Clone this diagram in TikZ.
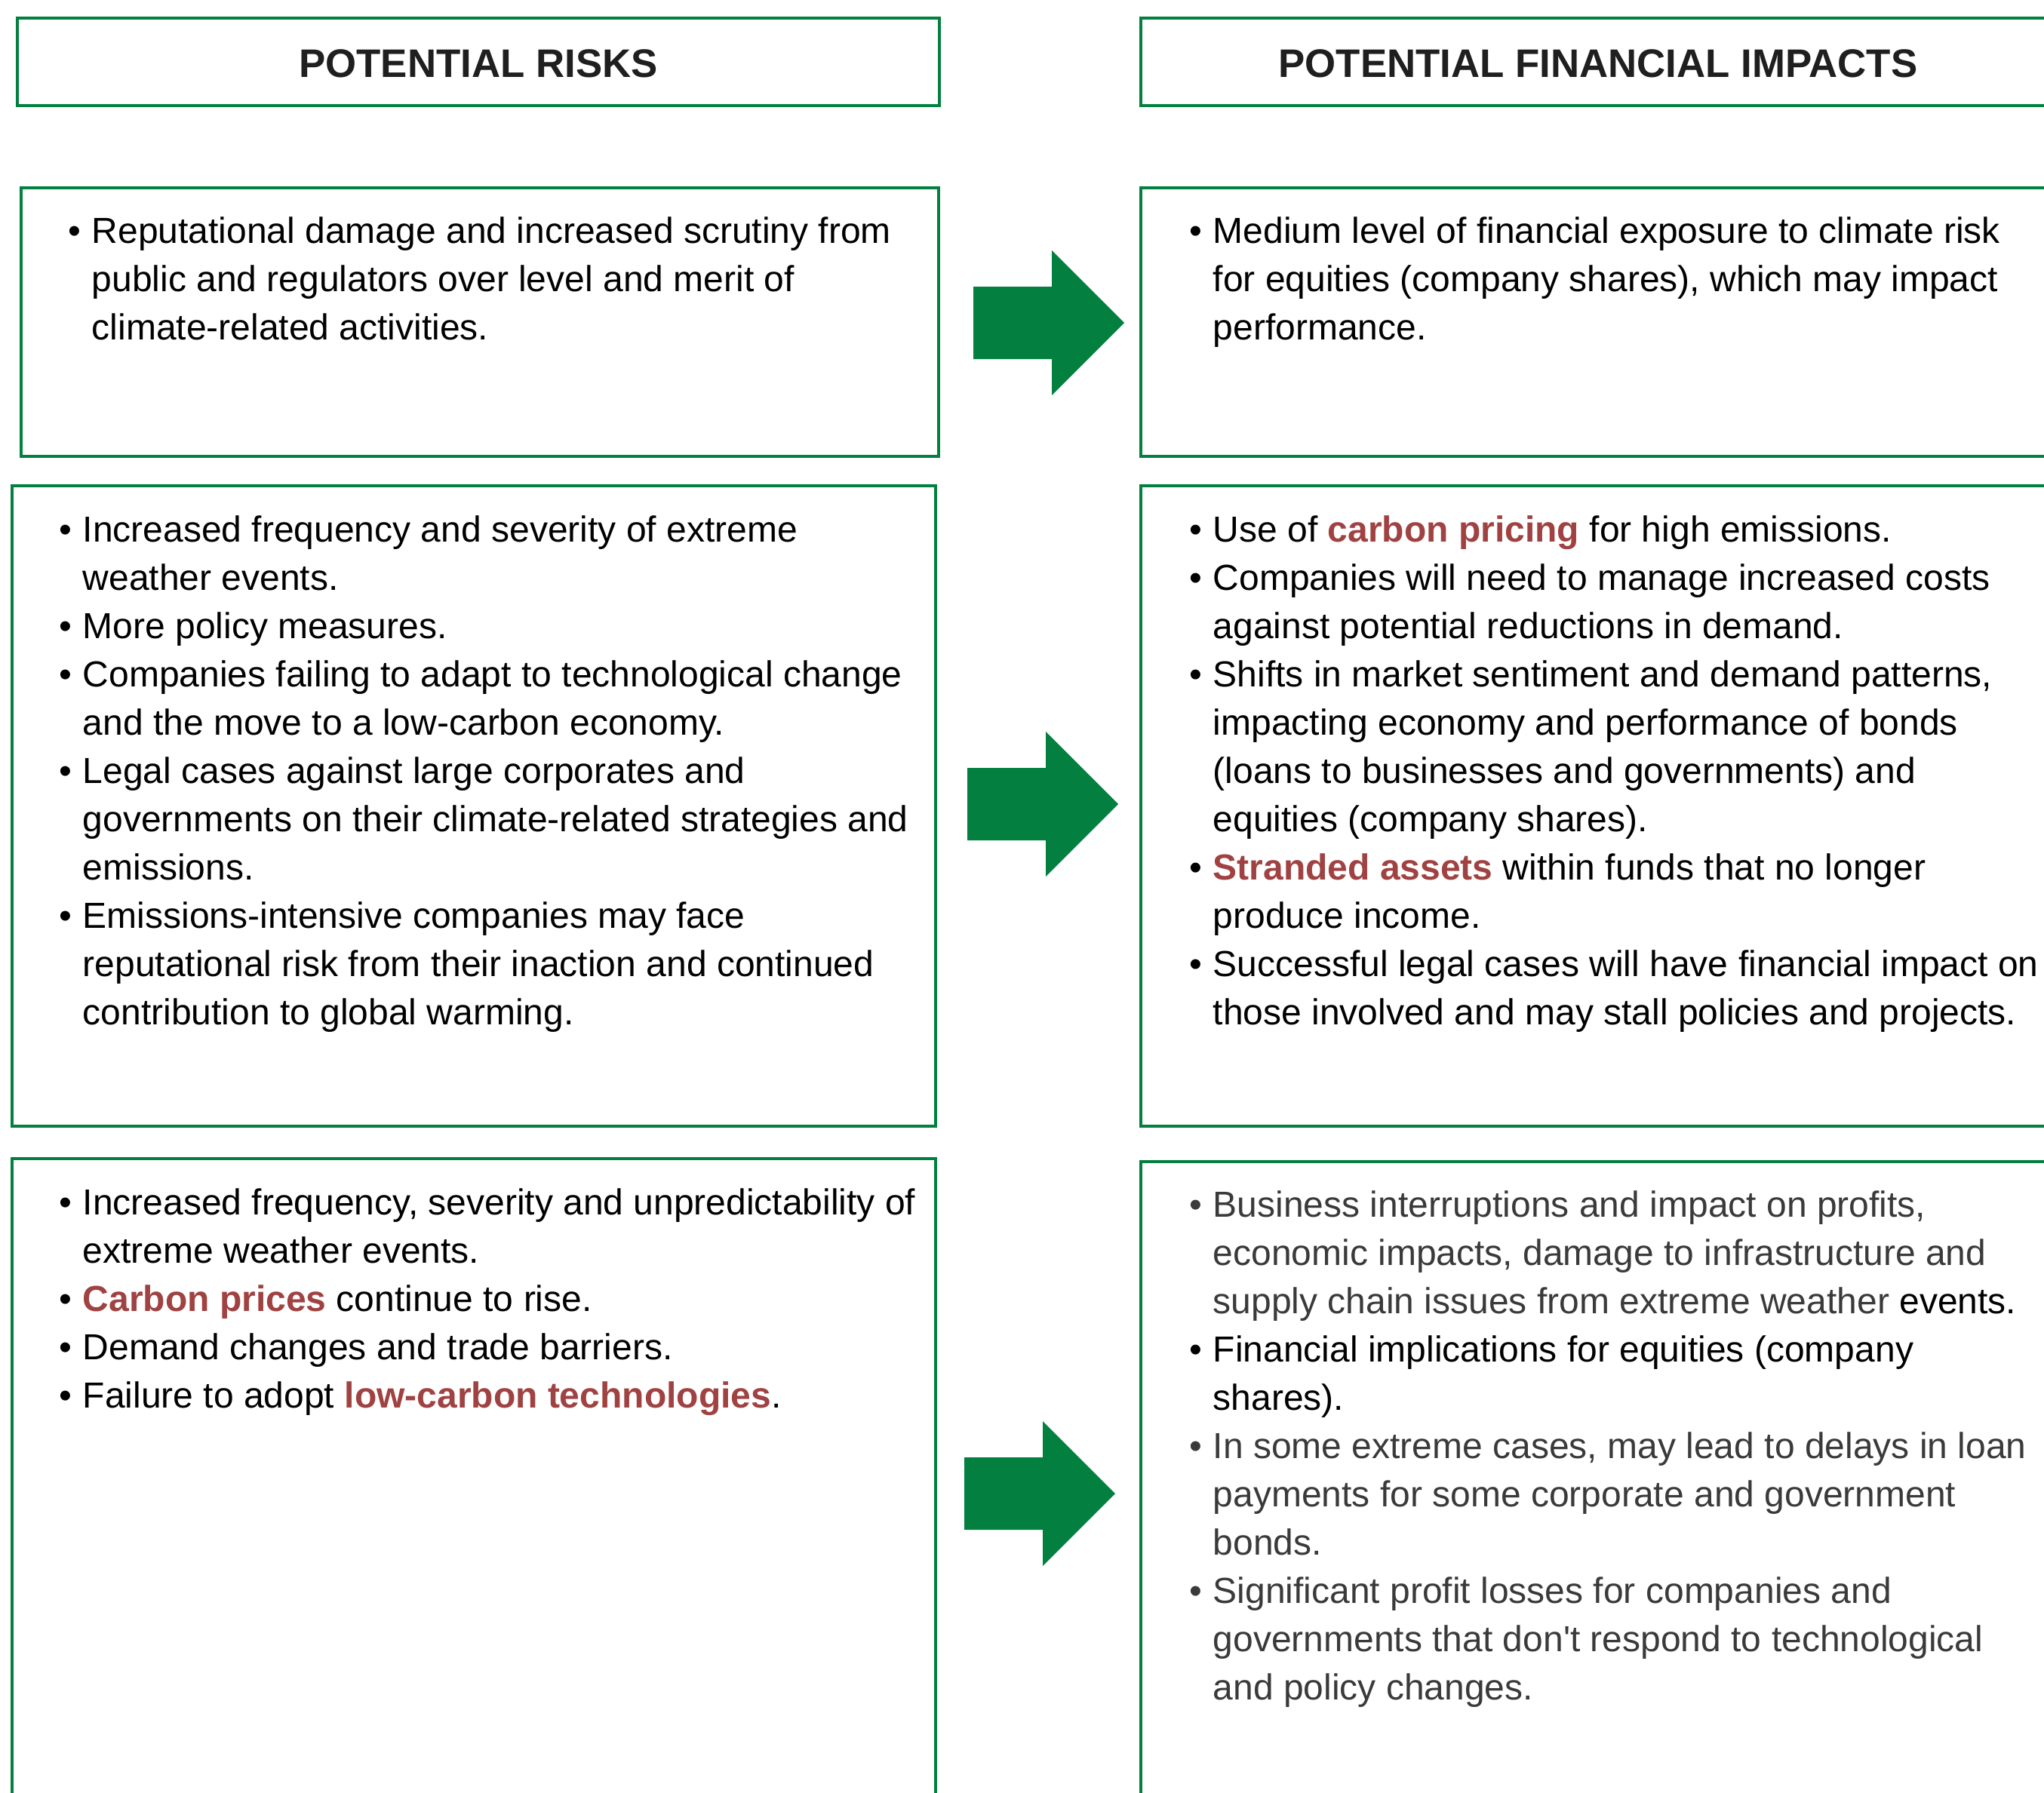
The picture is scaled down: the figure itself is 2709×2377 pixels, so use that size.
\documentclass[tikz,border=0pt]{standalone}
\usepackage{fontspec}
\newfontfamily\bodyfont{Liberation Sans}
\definecolor{boxgreen}{RGB}{3,128,64}
\definecolor{keyred}{RGB}{160,66,66}
\definecolor{softgray}{RGB}{58,58,58}
\newcommand\bul{\leavevmode\llap{•\hspace{3.6pt}}}
\newcommand\key[1]{\textbf{\color{keyred}#1}}
\tikzset{
  panel/.style={draw=boxgreen, line width=1pt, fill=none, rectangle, inner sep=0pt},
  headtxt/.style={font=\bodyfont\bfseries\fontsize{13.2pt}{16pt}\selectfont, text=black!88, inner sep=0pt, anchor=base},
  bodytxt/.style={font=\bodyfont\fontsize{12pt}{16pt}\selectfont, inner sep=0pt, anchor=base west},
  arrowfill/.style={fill=boxgreen, draw=none}
}
\newcommand\blockarrow[1]{%
  \fill[arrowfill] (#1) ++(0,-48) -- ++(104,0) -- ++(0,-48) -- ++(96,96) -- ++(-96,96) -- ++(0,-48) -- ++(-104,0) -- cycle;}
\begin{document}
\begin{tikzpicture}[x=0.25pt, y=-0.25pt]
\useasboundingbox (0,0) rectangle (2709,2377);
\clip (0,0) rectangle (2709,2377);
\fill[white] (0,0) rectangle (2709,2377);

% header boxes
\node[panel, minimum width=305.5pt, minimum height=29pt] (hl) at (634,82) {};
\node[panel, minimum width=303pt, minimum height=29pt] (hr) at (2118,82) {};
\node[headtxt] (hlt) at (634,102) {POTENTIAL RISKS};
\node[headtxt] (hrt) at (2118,102) {POTENTIAL FINANCIAL IMPACTS};

% row boxes
\node[panel, minimum width=304pt, minimum height=89pt] (b1l) at (636,427) {};
\node[panel, minimum width=303pt, minimum height=89pt] (b1r) at (2118,427) {};
\node[panel, minimum width=306pt, minimum height=212.25pt] (b2l) at (628,1068.5) {};
\node[panel, minimum width=303pt, minimum height=212.25pt] (b2r) at (2118,1068.5) {};
\node[panel, minimum width=306pt, minimum height=221pt] (b3l) at (628,1978) {};
\node[panel, minimum width=303pt, minimum height=220pt] (b3r) at (2118,1980) {};

% arrows
\coordinate (a1) at (1290,428);
\coordinate (a2) at (1282,1066);
\coordinate (a3) at (1278,1980);
\blockarrow{a1}
\blockarrow{a2}
\blockarrow{a3}

% texts
\node[bodytxt] (t1l) at (121,322) {\parbox[t]{310pt}{\raggedright
\bul Reputational damage and increased scrutiny from\\
public and regulators over level and merit of\\
climate-related activities.}};

\node[bodytxt] (t1r) at (1607,322) {\parbox[t]{310pt}{\raggedright
\bul Medium level of financial exposure to climate risk\\
for equities (company shares), which may impact\\
performance.}};

\node[bodytxt] (t2l) at (109,718) {\parbox[t]{310pt}{\raggedright
\bul Increased frequency and severity of extreme\\
weather events.\\
\bul More policy measures.\\
\bul Companies failing to adapt to technological change\\
and the move to a low-carbon economy.\\
\bul Legal cases against large corporates and\\
governments on their climate-related strategies and\\
emissions.\\
\bul Emissions-intensive companies may face\\
reputational risk from their inaction and continued\\
contribution to global warming.}};

\node[bodytxt] (t2r) at (1607,718) {\parbox[t]{310pt}{\raggedright
\bul Use of \key{carbon pricing} for high emissions.\\
\bul Companies will need to manage increased costs\\
against potential reductions in demand.\\
\bul Shifts in market sentiment and demand patterns,\\
impacting economy and performance of bonds\\
(loans to businesses and governments) and\\
equities (company shares).\\
\bul \key{Stranded assets} within funds that no longer\\
produce income.\\
\bul Successful legal cases will have financial impact on\\
those involved and may stall policies and projects.}};

\node[bodytxt] (t3l) at (109,1610) {\parbox[t]{310pt}{\raggedright
\bul Increased frequency, severity and unpredictability of\\
extreme weather events.\\
\bul \key{Carbon prices} continue to rise.\\
\bul Demand changes and trade barriers.\\
\bul Failure to adopt \key{low-carbon technologies}.}};

\node[bodytxt, text=softgray] (t3r) at (1607,1613) {\parbox[t]{310pt}{\raggedright
\bul Business interruptions and impact on profits,\\
economic impacts, damage to infrastructure and\\
supply chain issues from extreme weather {\color{black}events.}\\
{\color{black}\bul Financial implications for equities (company}\\
{\color{black}shares).}\\
\bul In some extreme cases, may lead to delays in loan\\
payments for some corporate and government\\
bonds.\\
\bul Significant profit losses for companies and\\
governments that don't respond to technological\\
and policy changes.}};
\end{tikzpicture}
\end{document}
